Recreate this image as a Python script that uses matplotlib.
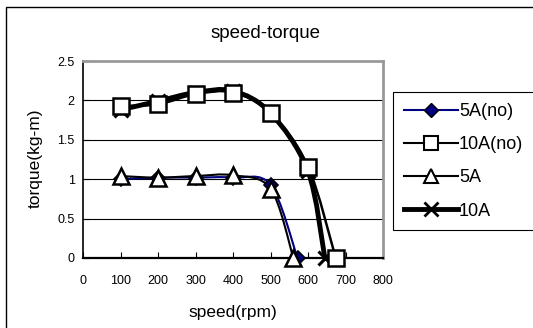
import matplotlib
matplotlib.use("Agg")
import matplotlib.pyplot as plt
from matplotlib.path import Path
from matplotlib.patches import PathPatch, Rectangle
from matplotlib.lines import Line2D

plt.rcParams['font.family'] = ['Liberation Sans', 'DejaVu Sans']

# data
speed_5a_no = [100, 200, 300, 400, 500, 572]
torque_5a_no = [1.0, 1.02, 1.02, 1.02, 0.93, 0.0]
speed_10a_no = [100, 200, 300, 400, 500, 600, 674]
torque_10a_no = [1.93, 1.95, 2.08, 2.10, 1.84, 1.16, 0.0]
speed_5a = [100, 200, 300, 400, 500, 561]
torque_5a = [1.04, 1.02, 1.04, 1.05, 0.88, 0.0]
speed_10a = [100, 200, 300, 400, 500, 600, 645]
torque_10a = [1.88, 1.99, 2.10, 2.12, 1.84, 1.10, 0.0]
x_ticks = [0, 100, 200, 300, 400, 500, 600, 700, 800]
y_ticks = [0, 0.5, 1, 1.5, 2, 2.5]
y_tick_labels = ['0', '0.5', '1', '1.5', '2', '2.5']
labels = ['5A(no)', '10A(no)', '5A', '10A']


def smooth_path(xs, ys, t=1/6):
    verts = [(xs[0], ys[0])]
    codes = [Path.MOVETO]
    n = len(xs)
    for i in range(n - 1):
        x0, y0 = (xs[i - 1], ys[i - 1]) if i > 0 else (xs[i], ys[i])
        x1, y1 = xs[i], ys[i]
        x2, y2 = xs[i + 1], ys[i + 1]
        x3, y3 = (xs[i + 2], ys[i + 2]) if i + 2 < n else (x2, y2)
        c1 = (x1 + (x2 - x0) * t, y1 + (y2 - y0) * t)
        c2 = (x2 - (x3 - x1) * t, y2 - (y3 - y1) * t)
        verts += [c1, c2, (x2, y2)]
        codes += [Path.CURVE4] * 3
    return Path(verts, codes)


fig = plt.figure(figsize=(5.33, 3.28), dpi=100)
fig.patches.append(Rectangle((6 / 533, -0.01), 1.0, 1.01 - 7 / 328, transform=fig.transFigure,
                             fill=False, edgecolor='black', linewidth=1.0))

ax = fig.add_axes([83 / 533, 1 - 258 / 328, 300 / 533, 197 / 328])
ax.set_xlim(0, 800)
ax.set_ylim(0, 2.5)
ax.set_xticks(x_ticks)
ax.set_yticks(y_ticks)
ax.set_yticklabels(y_tick_labels)
ax.tick_params(labelsize=9, length=4, width=0.8, direction='in')
ax.tick_params(axis='y', pad=6)
ax.tick_params(axis='x', pad=12)
for yv in y_ticks[1:-1]:
    ax.axhline(yv, color='black', linewidth=0.8, zorder=0)
ax.spines['top'].set_color('#999999')
ax.spines['top'].set_linewidth(2)
ax.spines['right'].set_color('#999999')
ax.spines['right'].set_linewidth(2)
ax.spines['left'].set_linewidth(1.2)
ax.spines['bottom'].set_linewidth(1.6)

series = [
    (speed_10a, torque_10a, dict(color='black', lw=3.5), dict(marker='x', ms=10, mew=2.2, mfc='none', mec='black')),
    (speed_10a_no, torque_10a_no, dict(color='black', lw=1.8), dict(marker='s', ms=11, mew=1.8, mfc='white', mec='black')),
    (speed_5a_no, torque_5a_no, dict(color='#000080', lw=1.5), dict(marker='D', ms=7, mew=1.2, mfc='#000080', mec='black')),
    (speed_5a, torque_5a, dict(color='black', lw=1.5), dict(marker='^', ms=11, mew=1.8, mfc='white', mec='black')),
]
for xs, ys, lst, mst in series:
    ax.add_patch(PathPatch(smooth_path(xs, ys), fill=False, edgecolor=lst['color'],
                           linewidth=lst['lw'], zorder=2, clip_on=False))
for xs, ys, lst, mst in series:
    ax.plot(xs, ys, linestyle='none', zorder=3, clip_on=False, **mst)

fig.text(266 / 533, 1 - 34 / 328, 'speed-torque', ha='center', va='center', fontsize=13.5)
fig.text(233 / 533, 1 - 312 / 328, 'speed(rpm)', ha='center', va='center', fontsize=12.5)
fig.text(35 / 533, 1 - 158 / 328, 'torque(kg-m)', ha='center', va='center', fontsize=12.5, rotation=90)

handles = [
    Line2D([], [], color='#000080', lw=1.5, marker='D', ms=7, mfc='#000080', mec='black'),
    Line2D([], [], color='black', lw=1.5, marker='s', ms=10, mfc='white', mec='black', mew=1.5),
    Line2D([], [], color='black', lw=1.5, marker='^', ms=10, mfc='white', mec='black', mew=1.5),
    Line2D([], [], color='black', lw=3.5, marker='x', ms=10, mec='black', mew=2),
]
leg = fig.legend(handles, labels, loc='upper left', bbox_to_anchor=(393 / 533, 1 - 92 / 328),
                 fontsize=13, frameon=True, fancybox=False, edgecolor='black', framealpha=1,
                 borderaxespad=0, handlelength=3.0, handletextpad=0.05, labelspacing=0.9,
                 borderpad=0.6)
leg.get_frame().set_linewidth(0.8)

fig.savefig('out.png', dpi=100)
